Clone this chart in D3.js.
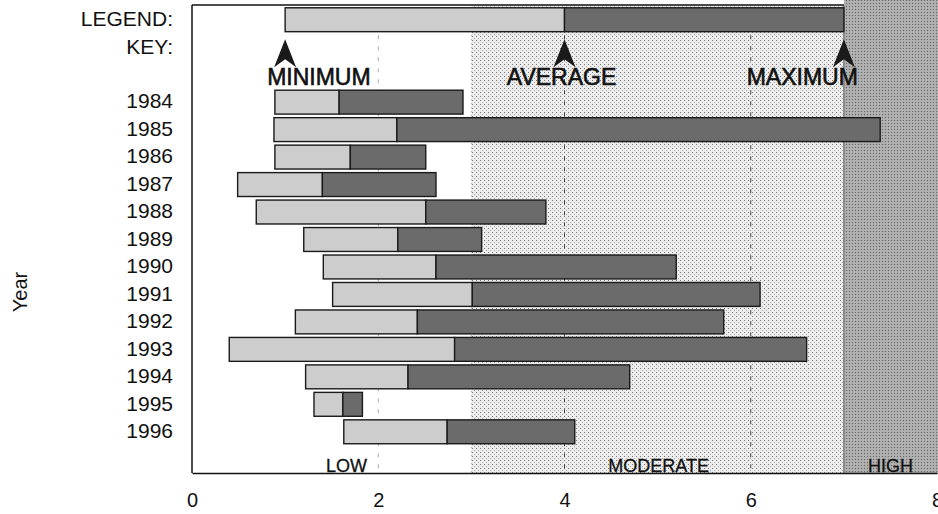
<!DOCTYPE html>
<html>
<head>
<meta charset="utf-8">
<script src="https://cdn.jsdelivr.net/npm/d3@7"></script>
<style>
  body { margin: 0; background: #ffffff; }
  text { font-family: "Liberation Sans", Arial, sans-serif; fill: #111; }
</style>
</head>
<body>
<div id="chart"></div>
<script>
// --- DATA ---
const years = ["1984", "1985", "1986", "1987", "1988", "1989", "1990",
               "1991", "1992", "1993", "1994", "1995", "1996"];
const minimum = [0.89, 0.88, 0.89, 0.49, 0.69, 1.20, 1.41, 1.51, 1.11, 0.40, 1.22, 1.31, 1.63];
const average = [1.58, 2.20, 1.70, 1.40, 2.51, 2.21, 2.62, 3.01, 2.42, 2.82, 2.32, 1.62, 2.74];
const maximum = [2.91, 7.39, 2.51, 2.62, 3.80, 3.11, 5.20, 6.10, 5.71, 6.60, 4.70, 1.83, 4.11];

// legend (key) bar
const legendValues = { min: 1, avg: 4, max: 7 };
const keyLabels = ["MINIMUM", "AVERAGE", "MAXIMUM"];

// zones along the x axis
const zones = [
  { name: "LOW", from: 0, to: 3 },
  { name: "MODERATE", from: 3, to: 7 },
  { name: "HIGH", from: 7, to: 8 }
];
const gridLines = [2, 4, 6];
const xTicks = [0, 2, 4, 6, 8];

const data = years.map((y, i) => ({ year: y, min: minimum[i], avg: average[i], max: maximum[i] }));

// --- SVG setup ---
const width = 938, height = 514;
const margin = { top: 5, bottom: 41, left: 192, right: 1 };

const svg = d3.select("#chart")
  .append("svg")
  .attr("width", width)
  .attr("height", height);

const defs = svg.append("defs");

// stipple for the moderate zone
const dots = defs.append("pattern")
  .attr("id", "stipple")
  .attr("width", 4).attr("height", 4)
  .attr("patternUnits", "userSpaceOnUse");
dots.append("rect").attr("width", 4).attr("height", 4).attr("fill", "#ececec");
dots.append("rect").attr("x", 0).attr("y", 0).attr("width", 1).attr("height", 1).attr("fill", "#777");
dots.append("rect").attr("x", 2).attr("y", 2).attr("width", 1).attr("height", 1).attr("fill", "#aaa");

// coarser texture for high zone
const hatch = defs.append("pattern")
  .attr("id", "highTex")
  .attr("width", 3).attr("height", 3)
  .attr("patternUnits", "userSpaceOnUse");
hatch.append("rect").attr("width", 3).attr("height", 3).attr("fill", "#a9a9a9");
hatch.append("rect").attr("width", 1).attr("height", 1).attr("fill", "#6c6c6c");
hatch.append("rect").attr("x", 1.5).attr("y", 1.5).attr("width", 1).attr("height", 1).attr("fill", "#d2d2d2");

// --- SCALES ---
const x = d3.scaleLinear()
  .domain([0, 8])
  .range([margin.left, 937]);

const rows = ["legend", "key", "arrows", ...years, "zones"];
const rowLabels = { legend: "LEGEND:", key: "KEY:", arrows: "", zones: "" };

const y = d3.scaleBand()
  .domain(rows)
  .range([margin.top + 1, height - margin.bottom])
  .paddingInner(0.13)
  .paddingOuter(0.065);

const plotTop = margin.top, plotBottom = height - margin.bottom;

// --- ZONES ---
svg.append("rect")
  .attr("x", x(zones[1].from))
  .attr("y", plotTop)
  .attr("width", x(zones[1].to) - x(zones[1].from))
  .attr("height", plotBottom - plotTop)
  .attr("fill", "url(#stipple)");

svg.append("rect")
  .attr("x", x(zones[2].from))
  .attr("y", 0)
  .attr("width", x(zones[2].to) - x(zones[2].from) + 2)
  .attr("height", plotBottom)
  .attr("fill", "url(#highTex)");

svg.append("line")
  .attr("x1", x(zones[2].from)).attr("x2", x(zones[2].from))
  .attr("y1", plotTop).attr("y2", plotBottom)
  .attr("stroke", "#555").attr("stroke-width", 1);

// --- DASHED REFERENCE LINES ---
svg.selectAll(".grid")
  .data(gridLines)
  .enter()
  .append("line")
  .attr("class", "grid")
  .attr("x1", d => x(d)).attr("x2", d => x(d))
  .attr("y1", y("key")).attr("y2", plotBottom)
  .attr("stroke", d => d === 2 ? "#aaa" : "#444")
  .attr("stroke-width", 1)
  .attr("stroke-dasharray", "4,7");

svg.append("line")
  .attr("x1", x(3)).attr("x2", x(3))
  .attr("y1", y("key")).attr("y2", plotBottom)
  .attr("stroke", "#999")
  .attr("stroke-dasharray", "1,3");

// --- FRAME ---
svg.append("line")
  .attr("x1", margin.left).attr("x2", margin.left)
  .attr("y1", plotTop).attr("y2", plotBottom)
  .attr("stroke", "#111").attr("stroke-width", 1.5);
svg.append("line")
  .attr("x1", margin.left).attr("x2", x(7))
  .attr("y1", plotTop).attr("y2", plotTop)
  .attr("stroke", "#111").attr("stroke-width", 1.5);

// --- AXES ---
svg.append("g")
  .attr("transform", `translate(0,${plotBottom})`)
  .call(d3.axisBottom(x).tickValues(xTicks).tickSize(0).tickPadding(20).tickFormat(d3.format("d")))
  .call(g => g.select(".domain").attr("stroke", "#111").attr("stroke-width", 1.5))
  .selectAll("text")
  .style("font-size", "20px")
  .style("font-family", "Liberation Sans, Arial, sans-serif")
  .attr("fill", "#111");

svg.append("g")
  .attr("transform", `translate(${margin.left},0)`)
  .call(d3.axisLeft(y).tickSize(0).tickPadding(19).tickFormat(d => rowLabels[d] !== undefined ? rowLabels[d] : d))
  .call(g => g.select(".domain").remove())
  .selectAll("text")
  .style("font-size", "21px")
  .style("font-family", "Liberation Sans, Arial, sans-serif")
  .attr("fill", "#111")
  .attr("dy", "0.3em");

// --- BARS ---
const segColor = { low: "#cdcdcd", high: "#6b6b6b" };

function drawBar(row, lo, mid, hi) {
  const g = svg.append("g");
  g.append("rect")
    .attr("x", x(lo)).attr("y", y(row))
    .attr("width", x(mid) - x(lo)).attr("height", y.bandwidth())
    .attr("fill", segColor.low)
    .attr("stroke", "#1a1a1a").attr("stroke-width", 1.4);
  g.append("rect")
    .attr("x", x(mid)).attr("y", y(row))
    .attr("width", x(hi) - x(mid)).attr("height", y.bandwidth())
    .attr("fill", segColor.high)
    .attr("stroke", "#1a1a1a").attr("stroke-width", 1.4);
}

data.forEach(d => drawBar(d.year, d.min, d.avg, d.max));
drawBar("legend", legendValues.min, legendValues.avg, legendValues.max);

// --- KEY ARROWS ---
const keyPoints = [legendValues.min, legendValues.avg, legendValues.max];
const tipY = y("key") + 4, baseY = y("key") + y.bandwidth() + 4;

svg.selectAll(".arrow")
  .data(keyPoints)
  .enter()
  .append("path")
  .attr("class", "arrow")
  .attr("d", d => `M${x(d)},${tipY} L${x(d) + 11},${baseY + 4} L${x(d)},${baseY - 4} L${x(d) - 11},${baseY + 4} Z`)
  .attr("fill", "#1a1a1a");

const keyAnchor = ["start", "middle", "end"];
const keyOffset = [-18, -3, 14];
svg.selectAll(".keylabel")
  .data(keyLabels)
  .enter()
  .append("text")
  .attr("class", "keylabel")
  .attr("x", (d, i) => x(keyPoints[i]) + keyOffset[i])
  .attr("y", 85)
  .attr("text-anchor", (d, i) => keyAnchor[i])
  .style("font-size", "23px")
  .style("stroke", "#111")
  .style("stroke-width", "0.6px")
  .text(d => d);

// --- ZONE LABELS ---
const zoneLabelX = [1.66, 5.01, 7.5];
svg.selectAll(".zonelabel")
  .data(zones)
  .enter()
  .append("text")
  .attr("class", "zonelabel")
  .attr("x", (d, i) => x(zoneLabelX[i]))
  .attr("y", plotBottom - 1)
  .attr("text-anchor", "middle")
  .style("font-size", "18px")
  .style("stroke", "#111")
  .style("stroke-width", "0.3px")
  .text(d => d.name);

// --- Y TITLE ---
svg.append("text")
  .attr("transform", "rotate(-90)")
  .attr("x", -292)
  .attr("y", 27)
  .attr("text-anchor", "middle")
  .style("font-size", "20px")
  .text("Year");
</script>
</body>
</html>
